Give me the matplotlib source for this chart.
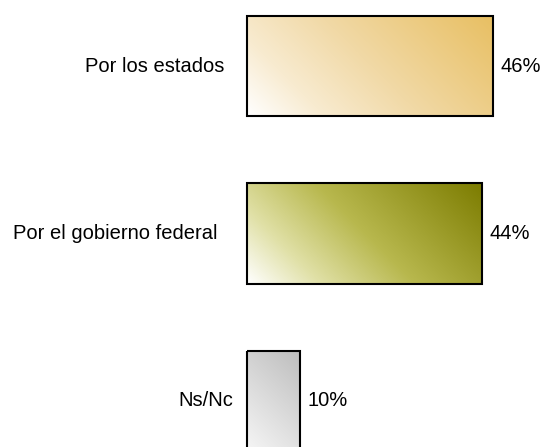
import numpy as np
import matplotlib
matplotlib.use("Agg")
import matplotlib.pyplot as plt
from matplotlib.colors import LinearSegmentedColormap

categories = ["Por los estados", "Por el gobierno federal", "Ns/Nc"]
values = [46, 44, 10]
value_labels = ["46%", "44%", "10%"]
gradient_stops = [
    [(0.0, "#FFFFFF"), (0.22, "#F8EBD0"), (0.5, "#F1D9A6"), (1.0, "#E8BF62")],
    [(0.0, "#FFFFFF"), (0.22, "#E0E0A6"), (0.5, "#B8B84E"), (1.0, "#7C7C00")],
    [(0.0, "#F6F6F6"), (1.0, "#BDBDBD")],
]

plt.rcParams["font.family"] = ["Liberation Sans", "DejaVu Sans"]

fig = plt.figure(figsize=(5.42, 4.47), dpi=100)
ax = fig.add_axes([0, 0, 1, 1])
px = 5.35  # pixels per percent
ax.set_xlim(-247 / px, (542 - 247) / px)
ax.set_ylim(2 + (447 - 401) / 167, -66 / 167)
ax.axis("off")

ypos = np.arange(len(values))
bars = ax.barh(ypos, values, height=0.6, facecolor="none",
               edgecolor="black", linewidth=1.5, zorder=3)

# gradient fills clipped to each bar, 45 degrees in pixel space
label_offsets = [-4.2, -5.5, -2.6]
for i, (bar, val) in enumerate(zip(bars, values)):
    x0, y0 = bar.get_x(), bar.get_y()
    w, h = bar.get_width(), bar.get_height()
    wpx, hpx = w * px, h * 167
    u = np.linspace(0, 1, 300)[None, :]
    v = np.linspace(0, 1, 120)[:, None]
    t = (u * wpx + (1 - v) * hpx) / (wpx + hpx)
    cmap = LinearSegmentedColormap.from_list("g%d" % i, gradient_stops[i])
    im = ax.imshow(t, cmap=cmap, vmin=0, vmax=1,
                   extent=(x0, x0 + w, y0 + h, y0), origin="upper",
                   aspect="auto", interpolation="bilinear", zorder=2)
    im.set_clip_path(bar)
    ax.text(val + 1.3, ypos[i], value_labels[i], ha="left", va="center",
            fontsize=14.5, color="black")
    ax.text(label_offsets[i], ypos[i], categories[i], ha="right", va="center",
            fontsize=14.5, color="black")

ax.set_xlim(-247 / px, (542 - 247) / px)
ax.set_ylim(2 + (447 - 401) / 167, -66 / 167)

fig.savefig("out.png", dpi=100)
